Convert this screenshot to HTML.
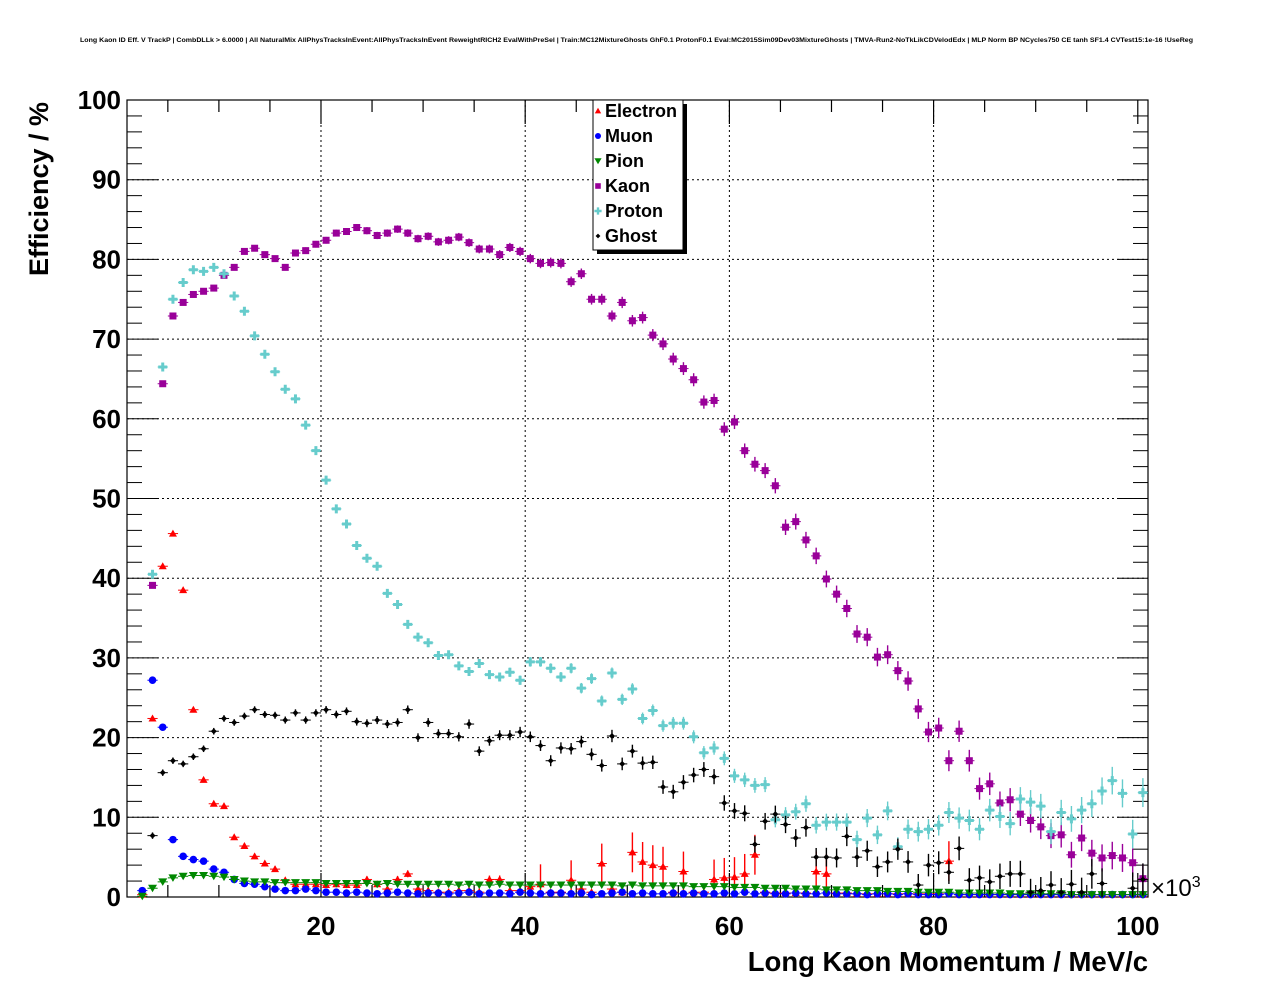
<!DOCTYPE html>
<html><head><meta charset="utf-8"><style>
html,body{margin:0;padding:0;background:#fff;}
svg{display:block;font-family:"Liberation Sans",Arial,sans-serif;}
</style></head><body>
<svg id="chart" width="1276" height="996" viewBox="0 0 1276 996" xmlns="http://www.w3.org/2000/svg">
<rect width="1276" height="996" fill="#fff"/>
<text x="80" y="42" font-size="6.5" font-weight="bold" textLength="1113" lengthAdjust="spacingAndGlyphs">Long Kaon ID Eff. V TrackP | CombDLLk &gt; 6.0000 | All NaturalMix AllPhysTracksInEvent:AllPhysTracksInEvent ReweightRICH2 EvalWithPreSel | Train:MC12MixtureGhosts GhF0.1 ProtonF0.1 Eval:MC2015Sim09Dev03MixtureGhosts | TMVA-Run2-NoTkLikCDVelodEdx | MLP Norm BP NCycles750 CE tanh SF1.4 CVTest15:1e-16 !UseReg</text>
<g id="grid"></g>
<g id="axes"></g>
<g id="marks"></g>
<text transform="translate(48,189) rotate(-90)" font-size="27" font-weight="bold" text-anchor="middle">Efficiency / %</text>
<text x="1148" y="971" font-size="27.5" font-weight="bold" text-anchor="end">Long Kaon Momentum / MeV/c</text>
<text x="1151" y="896" font-size="24">×10<tspan font-size="16" dy="-9">3</tspan></text>
<g id="legend"></g>
</svg>
<script>
const xStart = 2.5;
const electron = [0.3,22.4,41.5,45.6,38.5,23.5,14.7,11.7,11.4,7.5,6.4,5.1,4.2,3.5,2.1,1.6,1.6,1.6,1.5,1.6,1.5,1.5,2.2,1.6,
1.0,2.2,2.9,1.0,0.8,0.6,0.6,0.8,0.8,0.6,2.2,2.2,0.8,0.8,1.3,1.6,0.6,0.6,2.1,1.0,0.6,4.2,1.0,0.6,5.6,
4.4,4.0,3.8,0.6,3.2,0.6,0.6,2.2,2.4,2.5,2.9,5.3,0.6,
0.5,0.5,0.5,0.5,3.2,2.9,0.5,0.5,0.4,0.4,0.4,0.4,0.4,0.4,0.4,0.4,0.4,4.5,0.3,0.3,0.3,0.3,0.3,0.3,0.3,0.3,0.3,0.3,0.3,0.3,0.3,0.3,0.3,0.3,0.3,0.3,0.3];
const muon = [0.8,27.2,21.3,7.2,5.1,4.7,4.5,3.5,3.1,2.2,1.7,1.6,1.3,1.0,0.8,0.8,1.0,0.8,0.6,
0.6,0.5,0.6,0.5,0.4,0.5,0.6,0.5,0.4,0.5,0.5,0.4,0.5,0.6,0.4,0.5,0.5,0.4,0.6,0.5,0.4,0.5,0.5,0.4,0.5,0.3,0.4,0.5,0.6,0.4,0.5,0.4,0.4,0.5,0.4,0.5,0.4,0.4,0.5,0.4,0.6,0.4,0.5,0.4,0.4,0.5,0.4,0.4,0.5,0.4,0.4,0.4,0.3,0.4,0.4,0.3,0.4,0.3,0.3,0.3,0.4,0.3,0.3,0.3,0.3,0.3,0.3,0.3,0.3,0.3,0.3,0.3,0.3,0.3,0.3,0.3,0.3,0.3,0.3,0.3];
const pion = [0.1,1.1,1.9,2.4,2.6,2.7,2.7,2.6,2.5,2.2,2.0,1.9,1.9,1.8,1.8,1.8,1.8,1.8,1.7,
1.7,1.7,1.7,1.7,1.6,1.7,1.6,1.6,1.6,1.6,1.6,1.6,1.5,1.6,1.5,1.5,1.6,1.5,1.5,1.5,1.5,1.5,1.5,1.5,1.5,1.5,1.5,1.5,1.4,1.5,1.4,1.4,1.4,1.4,1.4,1.3,1.3,1.3,1.3,1.2,1.2,1.2,1.1,1.1,1.1,1.0,1.0,1.0,0.9,0.9,0.9,0.8,0.8,0.8,0.7,0.7,0.7,0.6,0.6,0.6,0.6,0.5,0.5,0.5,0.5,0.5,0.4,0.4,0.4,0.4,0.4,0.4,0.3,0.3,0.3,0.3,0.3,0.3,0.3,0.3];
const kaon = [null,39.1,64.4,72.9,74.6,75.6,76.0,76.4,78.0,79.0,81.0,81.4,80.6,80.1,79.0,80.8,81.1,81.9,82.4,83.3,83.5,84.0,83.6,83.0,83.3,
83.8,83.3,82.6,82.9,82.2,82.4,82.8,82.1,81.3,81.3,80.6,81.5,81.0,80.1,79.5,79.6,79.5,77.2,78.2,75.0,75.0,72.9,74.6,72.3,
72.7,70.5,69.4,67.5,66.3,64.9,62.1,62.3,58.7,59.6,56.0,54.3,53.5,51.6,46.4,47.1,44.8,42.8,39.9,38.0,36.2,33.0,32.6,30.1,30.4,
28.4,27.1,23.6,20.7,21.2,17.1,20.8,17.1,13.6,14.2,11.8,12.2,10.4,9.6,8.8,7.7,7.8,5.3,7.4,5.5,4.9,5.2,4.9,4.3,2.3];
const proton = [null,40.5,66.5,75.0,77.1,78.7,78.5,79.0,78.2,75.4,73.5,70.4,68.1,65.9,63.7,62.5,59.2,56.0,52.3,48.7,46.8,44.1,42.5,41.5,38.1,
36.7,34.2,32.6,31.9,30.3,30.4,29.0,28.3,29.3,27.9,27.6,28.2,27.2,29.5,29.5,28.7,27.6,28.7,26.2,27.4,24.6,28.1,24.8,26.1,
22.4,23.4,21.5,21.8,21.8,20.1,18.1,18.7,17.4,15.2,14.7,14.0,14.1,9.7,10.3,10.7,11.7,9.0,9.4,9.4,9.4,7.2,9.9,7.8,10.8,
6.3,8.5,8.2,8.5,9.0,10.6,9.9,9.6,8.5,10.9,10.1,9.2,12.3,11.9,11.4,8.2,10.6,9.8,10.9,11.7,13.3,14.6,13.0,7.9,13.1];
const ghost = [null,7.7,15.6,17.1,16.7,17.6,18.6,20.8,22.4,21.9,22.7,23.5,22.9,22.8,22.2,23.1,22.2,23.1,23.5,22.9,23.3,22.0,21.8,22.2,21.7,
21.9,23.5,20.0,21.9,20.5,20.5,20.1,21.7,18.3,19.6,20.3,20.3,20.7,20.1,19.0,17.1,18.7,18.6,19.5,17.9,16.5,20.2,16.7,18.3,
16.8,16.9,13.8,13.2,14.4,15.3,16.0,15.1,11.8,10.8,10.5,6.6,9.5,10.4,9.1,7.4,8.7,5.0,5.0,4.9,7.6,5.0,5.8,3.8,4.4,
6.0,4.4,1.5,4.0,4.3,3.1,6.1,2.1,2.4,1.9,2.6,2.9,2.9,0.6,0.8,1.5,0.6,1.6,0.6,2.9,1.7,null,null,1.1,2.2];
const yTicks = [0,10,20,30,40,50,60,70,80,90,100];
const xTickLabels = [20,40,60,80,100];
const legendNames = ["Electron","Muon","Pion","Kaon","Proton","Ghost"];

const NS="http://www.w3.org/2000/svg";
const L=127,R=1148,T=100,B=897, XMIN=1, XMAX=101;
function X(v){return L+(v-XMIN)/(XMAX-XMIN)*(R-L);}
function Y(v){return B-(v/100)*(B-T);}
function mk(tag,attrs,parent){const e=document.createElementNS(NS,tag);for(const k in attrs)e.setAttribute(k,attrs[k]);parent.appendChild(e);return e;}
const grid=document.getElementById('grid'),axes=document.getElementById('axes'),marks=document.getElementById('marks'),legend=document.getElementById('legend');

yTicks.forEach(v=>{ if(v>0&&v<100){const g=mk('line',{x1:L,x2:R,y1:Y(v),y2:Y(v),stroke:'#000','stroke-width':1,'stroke-dasharray':'2,3'},grid);

}});
xTickLabels.forEach(v=>{ if(v<100){const g=mk('line',{x1:X(v),x2:X(v),y1:T,y2:B,stroke:'#000','stroke-width':1,'stroke-dasharray':'2,3'},grid);

}});

const fr=mk('rect',{x:L,y:T,width:R-L,height:B-T,fill:'none',stroke:'#000','stroke-width':1.2},axes);


for(let v=0;v<=100;v+=2){const maj=v%10===0;const len=maj?31:15;
 mk('line',{x1:L,x2:L+len,y1:Y(v),y2:Y(v),stroke:'#000','stroke-width':1},axes);
 mk('line',{x1:R,x2:R-len,y1:Y(v),y2:Y(v),stroke:'#000','stroke-width':1},axes);}
yTicks.forEach(v=>{const t=mk('text',{x:L-6,y:Y(v)+9,'font-size':26,'font-weight':'bold','text-anchor':'end'},axes);t.textContent=v;

});
for(let v=5;v<=100;v+=5){const maj=v%20===0;const len=maj?24:12;
 mk('line',{x1:X(v),x2:X(v),y1:B,y2:B-len,stroke:'#000','stroke-width':1.2},axes);
 mk('line',{x1:X(v),x2:X(v),y1:T,y2:T+len,stroke:'#000','stroke-width':1.2},axes);}
xTickLabels.forEach(v=>{const t=mk('text',{x:X(v),y:935,'font-size':26,'font-weight':'bold','text-anchor':'middle'},axes);t.textContent=v;

});

function marker(type,cx,cy,col,parent,s){
 s=s||1;
 if(type==='tri') return mk('polygon',{points:`${cx},${cy-4*s} ${cx-4*s},${cy+3*s} ${cx+4*s},${cy+3*s}`,fill:col},parent);
 if(type==='circ') return mk('circle',{cx:cx,cy:cy,r:3.8*s,fill:col},parent);
 if(type==='tridown') return mk('polygon',{points:`${cx-4.5*s},${cy-3.5*s} ${cx+4.5*s},${cy-3.5*s} ${cx},${cy+4*s}`,fill:col},parent);
 if(type==='sq') return mk('rect',{x:cx-3.5*s,y:cy-3.5*s,width:7*s,height:7*s,fill:col},parent);
 if(type==='cross') return mk('polygon',{points:`${cx-1.5*s},${cy-4.5*s} ${cx+1.5*s},${cy-4.5*s} ${cx+1.5*s},${cy-1.5*s} ${cx+4.5*s},${cy-1.5*s} ${cx+4.5*s},${cy+1.5*s} ${cx+1.5*s},${cy+1.5*s} ${cx+1.5*s},${cy+4.5*s} ${cx-1.5*s},${cy+4.5*s} ${cx-1.5*s},${cy+1.5*s} ${cx-4.5*s},${cy+1.5*s} ${cx-4.5*s},${cy-1.5*s} ${cx-1.5*s},${cy-1.5*s}`,fill:col},parent);
 if(type==='dia') return mk('polygon',{points:`${cx},${cy-3*s} ${cx+3*s},${cy} ${cx},${cy+3*s} ${cx-3*s},${cy}`,fill:col},parent);
}
const series=[
 {name:'electron',data:electron,col:'#ff0000',m:'tri',eb:0.8},
 {name:'muon',data:muon,col:'#0000ff',m:'circ',eb:0.2},
 {name:'pion',data:pion,col:'#008800',m:'tridown',eb:0.2},
 {name:'kaon',data:kaon,col:'#990099',m:'sq',eb:0.9},
 {name:'proton',data:proton,col:'#66cccc',m:'cross',eb:0.9},
 {name:'ghost',data:ghost,col:'#000000',m:'dia',eb:1.0}
];
series.forEach(s=>{
 const g=mk('g',{},marks);
 
 
 s.data.forEach((v,i)=>{
  if(v===null||v===undefined) return;
  const xv=xStart+i, cx=X(xv), cy=Y(v);
  const pg=mk('g',{},g);
  
  
  let e=s.eb*(0.4+1.6*Math.pow(xv/100,2));
  if(s.name==='electron'&&xv>40) e = v>1.5 ? 2.5 : 0.3;
  mk('line',{x1:X(xv-0.5),x2:X(xv+0.5),y1:cy,y2:cy,stroke:s.col,'stroke-width':1},pg);
  mk('line',{x1:cx,x2:cx,y1:Y(Math.min(100,v+e)),y2:Y(Math.max(0,v-e)),stroke:s.col,'stroke-width':1.4},pg);
  marker(s.m,cx,cy,s.col,pg);
 });
});

const lx=593,ly=100,lw=90,lh=150;
mk('rect',{x:lx+4,y:ly+4,width:lw,height:lh,fill:'#000'},legend);
const lb=mk('rect',{x:lx,y:ly,width:lw,height:lh,fill:'#fff',stroke:'#000','stroke-width':1},legend);


legendNames.forEach((n,i)=>{
 const s=series[i];const y=ly+11+i*25;
 const eg=mk('g',{},legend);
 
 
 marker(s.m,598,y,s.col,eg,0.8);
 const t=mk('text',{x:605,y:y+6,'font-size':18,'font-weight':'bold'},eg);t.textContent=n;
});
</script>
</body></html>
